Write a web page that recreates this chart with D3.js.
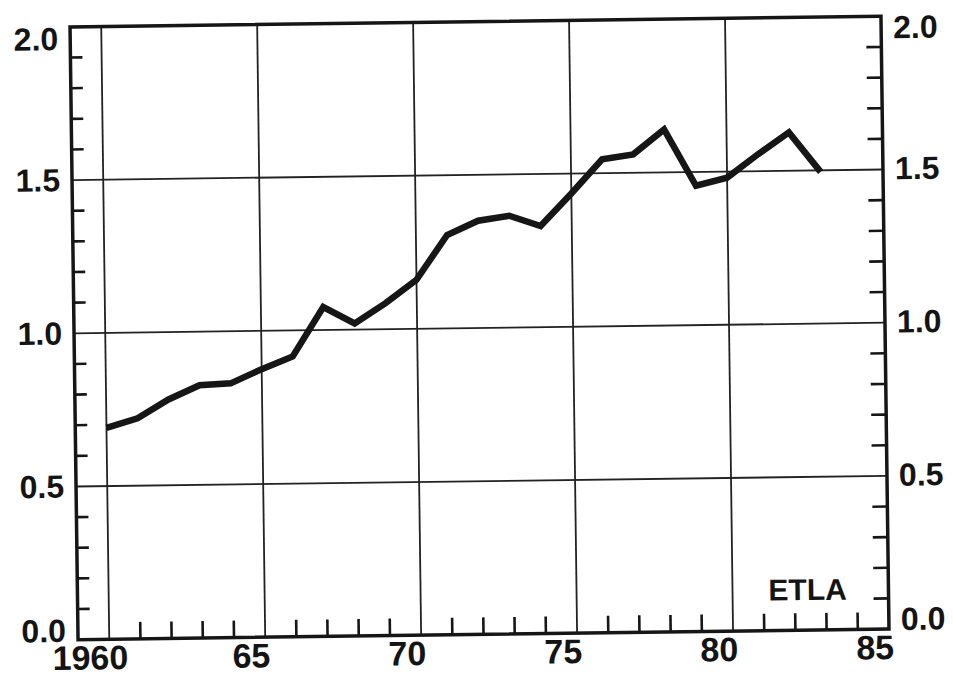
<!DOCTYPE html>
<meta charset="utf-8">
<style>
body { margin: 0; background: #fff; }
.frame { fill: none; stroke: #161616; stroke-width: 3.5px; }
.grid { fill: none; stroke: #222; stroke-width: 1.8px; }
.tick { stroke: #161616; stroke-width: 2.6px; }
.series { fill: none; stroke: #161616; stroke-width: 6.5px; stroke-linejoin: miter; stroke-linecap: butt; }
.lab { font-family: "Liberation Sans", Arial, sans-serif; font-weight: bold; fill: #141414; }
</style>
<body>
<script src="https://cdnjs.cloudflare.com/ajax/libs/d3/7.8.5/d3.min.js"></script>
<script>

var years = [1960, 1961, 1962, 1963, 1964, 1965, 1966, 1967, 1968, 1969, 1970, 1971,
             1972, 1973, 1974, 1975, 1976, 1977, 1978, 1979, 1980, 1981, 1982, 1983];
var values = [0.69, 0.72, 0.78, 0.825, 0.83, 0.875, 0.915, 1.075, 1.02, 1.085, 1.16, 1.305,
              1.35, 1.365, 1.33, 1.435, 1.545, 1.56, 1.64, 1.455, 1.48, 1.555, 1.625, 1.495];

var xGridYears = [1960, 1965, 1970, 1975, 1980];
var xLabels = ["1960", "65", "70", "75", "80", "85"];
var xLabelYears = [1960, 1965, 1970, 1975, 1980, 1985];
var yGrid = [0.5, 1.0, 1.5];
var yLabels = ["0.0", "0.5", "1.0", "1.5", "2.0"];
var yLabelValues = [0, 0.5, 1.0, 1.5, 2.0];
var sourceLabel = "ETLA";

var width = 953, height = 676;
var plotLeft = 74, plotRight = 885, plotTop = 21.6, plotBottom = 634.4;

var x = d3.scaleLinear().domain([1959, 1985]).range([plotLeft, plotRight]);
var y = d3.scaleLinear().domain([0, 2]).range([plotBottom, plotTop]);

var svg = d3.select("body").append("svg")
    .attr("width", width)
    .attr("height", height);

// the scan is a little tilted
var g = svg.append("g")
    .attr("transform", "rotate(-0.75, 479, 327.5)");

// grid
g.selectAll(".vgrid").data(xGridYears).enter().append("line")
    .attr("class", "grid")
    .attr("x1", function(d){ return x(d); }).attr("x2", function(d){ return x(d); })
    .attr("y1", plotTop).attr("y2", plotBottom);

g.selectAll(".hgrid").data(yGrid).enter().append("line")
    .attr("class", "grid")
    .attr("x1", plotLeft).attr("x2", plotRight)
    .attr("y1", function(d){ return y(d); }).attr("y2", function(d){ return y(d); });

// minor ticks
var yMinor = d3.range(1, 20).map(function(i){ return i / 10; })
    .filter(function(d){ return Math.round(d * 10) % 5 != 0; });
var xMinor = d3.range(1961, 1985).filter(function(d){ return d % 5 != 0; });

g.selectAll(".ytl").data(yMinor).enter().append("line")
    .attr("class", "tick")
    .attr("x1", plotLeft).attr("x2", plotLeft + 12)
    .attr("y1", function(d){ return y(d); }).attr("y2", function(d){ return y(d); });

g.selectAll(".ytr").data(yMinor).enter().append("line")
    .attr("class", "tick")
    .attr("x1", plotRight - 15).attr("x2", plotRight)
    .attr("y1", function(d){ return y(d); }).attr("y2", function(d){ return y(d); });

g.selectAll(".xt").data(xMinor).enter().append("line")
    .attr("class", "tick")
    .attr("x1", function(d){ return x(d); }).attr("x2", function(d){ return x(d); })
    .attr("y1", plotBottom).attr("y2", plotBottom - 17);

// frame
g.append("rect")
    .attr("class", "frame")
    .attr("x", plotLeft).attr("y", plotTop)
    .attr("width", plotRight - plotLeft).attr("height", plotBottom - plotTop);

// series
var line = d3.line()
    .x(function(d, i){ return x(years[i]); })
    .y(function(d){ return y(d); });

g.append("path")
    .datum(values)
    .attr("class", "series")
    .attr("d", line);

// labels
function yShift(v) {
  if (v == 2) return 12;
  if (v == 0) return -9;
  return 0;
}

g.selectAll(".yl").data(yLabels).enter().append("text")
    .attr("class", "lab")
    .attr("x", plotLeft - 12)
    .attr("y", function(d, i){ return y(yLabelValues[i]) + yShift(yLabelValues[i]); })
    .attr("text-anchor", "end")
    .attr("dominant-baseline", "central")
    .style("font-size", "32px")
    .text(function(d){ return d; });

g.selectAll(".yr").data(yLabels).enter().append("text")
    .attr("class", "lab")
    .attr("x", plotRight + 12)
    .attr("y", function(d, i){ return y(yLabelValues[i]) + yShift(yLabelValues[i]) - 1; })
    .attr("text-anchor", "start")
    .attr("dominant-baseline", "central")
    .style("font-size", "32px")
    .text(function(d){ return d; });

g.selectAll(".xl").data(xLabels).enter().append("text")
    .attr("class", "lab")
    .attr("x", function(d, i){ return x(xLabelYears[i]) - (i == 0 ? 19 : 14); })
    .attr("y", plotBottom + 30)
    .attr("text-anchor", "middle")
    .style("font-size", "34px")
    .text(function(d){ return d; });

g.append("text")
    .attr("class", "lab")
    .attr("x", 765)
    .attr("y", plotBottom - 30)
    .style("font-size", "30px")
    .text(sourceLabel);

</script>
</body>
